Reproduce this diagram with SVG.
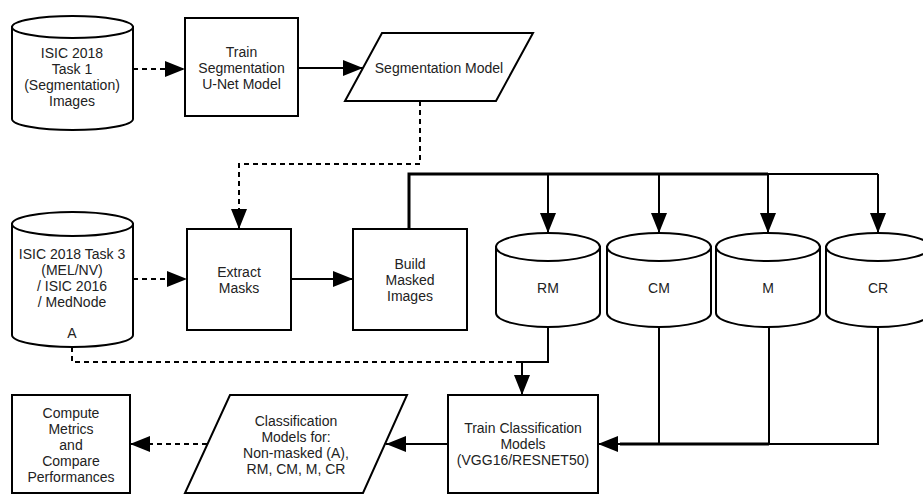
<svg xmlns="http://www.w3.org/2000/svg" width="923" height="498" viewBox="0 0 923 498">
<defs>
<style>
.s{fill:#fff;stroke:#000;stroke-width:2}
.t{font-family:"Liberation Sans",Arial,sans-serif;font-size:14px;fill:#222;text-anchor:middle}
.c{fill:none;stroke:#000;stroke-width:2}
.d{stroke-dasharray:5 4}
.k{stroke-width:3}
</style>
<marker id="ah" markerWidth="20" markerHeight="16" refX="20" refY="8" orient="auto" markerUnits="userSpaceOnUse">
<path d="M0,0 L20,8 L0,16 Z" fill="#000"/>
</marker>
</defs>
<rect width="923" height="498" fill="#fff"/>
<g id="connectors">
<path class="c d" d="M133,69 H185" marker-end="url(#ah)"/>
<path class="c" d="M298,68 H363" marker-end="url(#ah)"/>
<path class="c d" d="M420,101 V164 H239 V229" marker-end="url(#ah)"/>
<path class="c d" d="M133,279 H187" marker-end="url(#ah)"/>
<path class="c" d="M291,279 H353" marker-end="url(#ah)"/>
<path class="c k" d="M409,229 V174 H768"/>
<path class="c" d="M766,174 H878"/>
<path class="c" d="M548,174 V233" marker-end="url(#ah)"/>
<path class="c" d="M659,174 V233" marker-end="url(#ah)"/>
<path class="c" d="M768,174 V233" marker-end="url(#ah)"/>
<path class="c" d="M878,174 V233" marker-end="url(#ah)"/>
<path class="c d" d="M72,347 V362 H522"/>
<path class="c" d="M548,327 V362 H522 V395" marker-end="url(#ah)"/>
<path class="c" d="M659,327 V444"/>
<path class="c" d="M769,327 V444"/>
<path class="c" d="M878,327 V444 H659"/>
<path class="c k" d="M769,444 H620"/>
<path class="c" d="M620,444 H598" marker-end="url(#ah)"/>
<path class="c" d="M448,444 H386" marker-end="url(#ah)"/>
<path class="c d" d="M207,444 H130" marker-end="url(#ah)"/>
</g>
<g id="isic2018t1">
<path class="s" d="M12,27 V119 A60.5,11 0 0 0 133,119 V27 Z"/>
<ellipse class="s" cx="72.5" cy="27" rx="60.5" ry="11"/>
<text class="t"><tspan x="72" y="58">ISIC 2018</tspan><tspan x="72" y="74">Task 1</tspan><tspan x="72" y="90">(Segmentation)</tspan><tspan x="72" y="106">Images</tspan></text>
</g>
<g id="trainseg">
<rect class="s" x="185" y="18" width="113" height="98"/>
<text class="t"><tspan x="241.5" y="57">Train</tspan><tspan x="241.5" y="73">Segmentation</tspan><tspan x="241.5" y="89">U-Net Model</tspan></text>
</g>
<g id="segmodel">
<path class="s" d="M382,33 H533 L496,101 H345 Z"/>
<text class="t" x="439" y="73">Segmentation Model</text>
</g>
<g id="isic2018t3">
<path class="s" d="M12,224 V335 A60.5,12 0 0 0 133,335 V224 Z"/>
<ellipse class="s" cx="72.5" cy="224" rx="60.5" ry="12"/>
<text class="t"><tspan x="72" y="259">ISIC 2018 Task 3</tspan><tspan x="72" y="275">(MEL/NV)</tspan><tspan x="72" y="291">/ ISIC 2016</tspan><tspan x="72" y="307">/ MedNode</tspan><tspan x="72" y="338">A</tspan></text>
</g>
<g id="extract">
<rect class="s" x="187" y="229" width="104" height="101"/>
<text class="t"><tspan x="239" y="277">Extract</tspan><tspan x="239" y="293">Masks</tspan></text>
</g>
<g id="build">
<rect class="s" x="353" y="229" width="114" height="101"/>
<text class="t"><tspan x="410" y="269">Build</tspan><tspan x="410" y="285">Masked</tspan><tspan x="410" y="301">Images</tspan></text>
</g>
<g id="rm">
<path class="s" d="M496,247 V313 A52,14 0 0 0 600,313 V247 Z"/>
<ellipse class="s" cx="548" cy="247" rx="52" ry="14"/>
<text class="t" x="548" y="293">RM</text>
</g>
<g id="cm">
<path class="s" d="M607,247 V313 A52,14 0 0 0 711,313 V247 Z"/>
<ellipse class="s" cx="659" cy="247" rx="52" ry="14"/>
<text class="t" x="659" y="293">CM</text>
</g>
<g id="m">
<path class="s" d="M716,247 V313 A52,14 0 0 0 820,313 V247 Z"/>
<ellipse class="s" cx="768" cy="247" rx="52" ry="14"/>
<text class="t" x="768" y="293">M</text>
</g>
<g id="cr">
<path class="s" d="M826,247 V313 A52,14 0 0 0 930,313 V247 Z"/>
<ellipse class="s" cx="878" cy="247" rx="52" ry="14"/>
<text class="t" x="878" y="293">CR</text>
</g>
<g id="trainclass">
<rect class="s" x="448" y="395" width="150" height="98"/>
<text class="t"><tspan x="523" y="433">Train Classification</tspan><tspan x="523" y="449">Models</tspan><tspan x="523" y="465">(VGG16/RESNET50)</tspan></text>
</g>
<g id="classmodels">
<path class="s" d="M230,395 H407 L363,493 H185 Z"/>
<text class="t"><tspan x="296" y="426">Classification</tspan><tspan x="296" y="442">Models for:</tspan><tspan x="296" y="458">Non-masked (A),</tspan><tspan x="296" y="474">RM, CM, M, CR</tspan></text>
</g>
<g id="compute">
<rect class="s" x="12" y="395" width="118" height="98"/>
<text class="t"><tspan x="71" y="418">Compute</tspan><tspan x="71" y="434">Metrics</tspan><tspan x="71" y="450">and</tspan><tspan x="71" y="466">Compare</tspan><tspan x="71" y="482">Performances</tspan></text>
</g>
</svg>
